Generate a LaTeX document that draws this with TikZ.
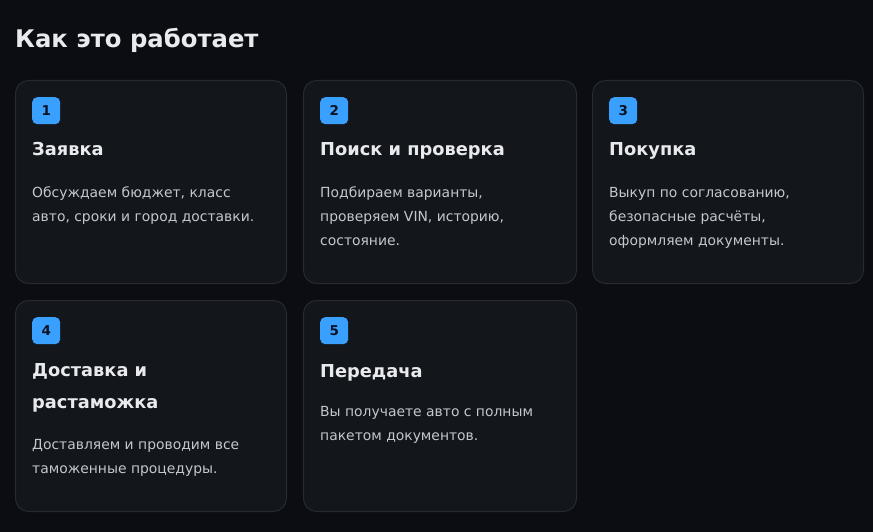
\documentclass[tikz,border=0pt]{standalone}
\usepackage{fontspec}
\setmainfont{DejaVu Sans}
\usepackage{tikz}
\usetikzlibrary{positioning}

\definecolor{bgdark}{HTML}{0B0D12}
\definecolor{cardfill}{HTML}{13161B}
\definecolor{cardline}{HTML}{262A31}
\definecolor{badgeblue}{HTML}{3AA0FF}
\definecolor{badgetext}{HTML}{0B1220}
\definecolor{titlegray}{HTML}{E8EAED}
\definecolor{bodygray}{HTML}{C4C8CE}

\tikzset{
  card/.style={draw=cardline, fill=cardfill, line width=1pt, rounded corners=13pt,
    anchor=north west, minimum width=271pt, minimum height=203pt, inner sep=0pt},
  badge/.style={fill=badgeblue, rounded corners=5pt, anchor=north west, inner sep=0pt,
    minimum width=28pt, minimum height=27pt, text=badgetext, font=\bfseries\fontsize{13.5}{14}\selectfont},
  cardtitle/.style={anchor=base west, inner sep=0pt, align=left, text=titlegray,
    font=\bfseries\fontsize{17.8}{31.5}\selectfont},
  cardbody/.style={anchor=base west, inner sep=0pt, align=left, text=bodygray,
    font=\fontsize{13.9}{24}\selectfont}
}

\begin{document}
\begin{tikzpicture}[x=1pt, y=-1pt]
   \fill[bgdark] (0,0) rectangle (873,532);
   \useasboundingbox (0,0) rectangle (873,532);

   \node[anchor=base west, inner sep=0pt, text=titlegray, font=\bfseries\fontsize{24.3}{30}\selectfont]
     (heading) at (15,48) {Как это работает};

   % row 1
   \node[card] (card1) at (15,80) {};
   \node[card, minimum width=273pt] (card2) at (303,80) {};
   \node[card] (card3) at (592,80) {};
   % row 2
   \node[card, minimum height=211pt] (card4) at (15,300) {};
   \node[card, minimum width=273pt, minimum height=211pt] (card5) at (303,300) {};

   \foreach \i in {1,...,5} {
     \node[badge] (badge\i) at ([xshift=17pt, yshift=-17pt]card\i.north west) {\i};
   }

   % base = last line of each text
   \node[cardtitle] (title1) at ([yshift=-76pt]card1.north west -| badge1.west) {Заявка};
   \node[cardtitle] (title2) at ([yshift=-76pt]card2.north west -| badge2.west) {Поиск и проверка};
   \node[cardtitle] (title3) at ([yshift=-76pt]card3.north west -| badge3.west) {Покупка};
   \node[cardtitle] (title4) at ([yshift=-108pt]card4.north west -| badge4.west) {Доставка и\\растаможка};
   \node[cardtitle] (title5) at ([yshift=-77pt]card5.north west -| badge5.west) {Передача};

   \node[cardbody] (body1) at ([yshift=-141pt]card1.north west -| badge1.west)
     {Обсуждаем бюджет, класс\\авто, сроки и город доставки.};
   \node[cardbody] (body2) at ([yshift=-165pt]card2.north west -| badge2.west)
     {Подбираем варианты,\\проверяем VIN, историю,\\состояние.};
   \node[cardbody] (body3) at ([yshift=-165pt]card3.north west -| badge3.west)
     {Выкуп по согласованию,\\безопасные расчёты,\\оформляем документы.};
   \node[cardbody] (body4) at ([yshift=-173pt]card4.north west -| badge4.west)
     {Доставляем и проводим все\\таможенные процедуры.};
   \node[cardbody] (body5) at ([yshift=-140pt]card5.north west -| badge5.west)
     {Вы получаете авто с полным\\пакетом документов.};
\end{tikzpicture}
\end{document}
